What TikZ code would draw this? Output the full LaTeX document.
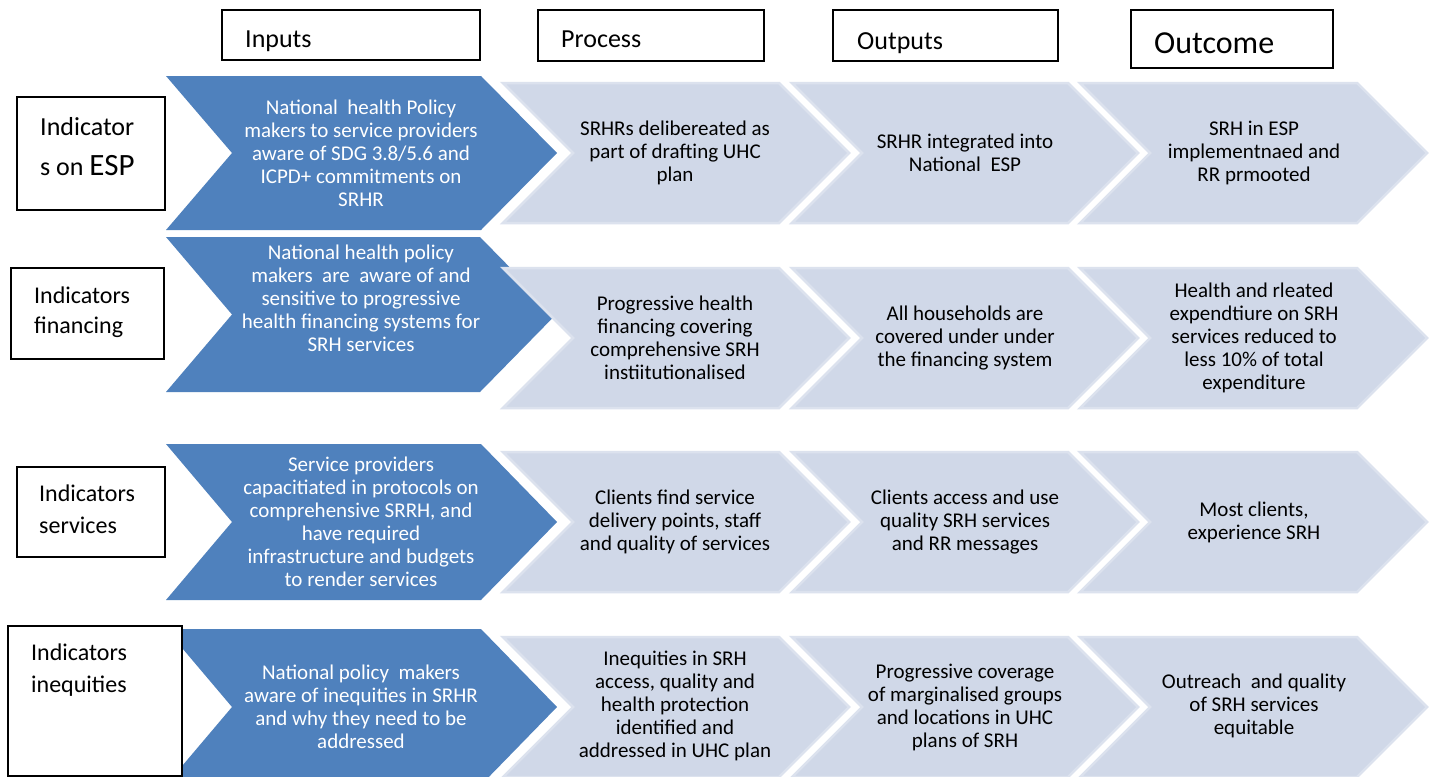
\documentclass[tikz,border=0pt]{standalone}
\usepackage{fontspec}
\setmainfont{Carlito}
\definecolor{darkblue}{HTML}{4F81BD}
\definecolor{lightblue}{HTML}{D0D8E8}
\definecolor{lightrim}{HTML}{DCE2EE}
\newcommand\chevpath[8]{% style, left, top, body width, height, tip depth, notch depth, name
  \path[#1] (#2,#3) coordinate (#8) -- ++(#4,0) -- ++(#6,#5/2) -- ++(-#6,#5/2) -- ++(-#4,0) -- ++(#7,-#5/2) -- cycle;}
\tikzset{
  darkchev/.style={fill=darkblue},
  lightchev/.style={fill=lightblue, draw=lightrim, line width=2.5pt, line join=miter},
  hdrbox/.style={draw=black, fill=white, line width=1.3pt},
  darktxt/.style={text=white, align=center, inner sep=0pt, font=\fontsize{21}{23}\selectfont},
  lighttxt/.style={text=black, align=center, inner sep=0pt, font=\fontsize{21}{23}\selectfont},
  hdrtxt/.style={anchor=base west, inner sep=0pt, font=\fontsize{26}{30}\selectfont},
  lbltxt/.style={anchor=base west, inner sep=0pt, align=left, font=\fontsize{24}{31}\selectfont}
}
\begin{document}
\begin{tikzpicture}[x=1pt,y=-1pt]
\useasboundingbox (0,0) rectangle (1431,776);
\fill[white] (0,0) rectangle (1431,776);
% header boxes
\draw[hdrbox] (222,10) rectangle (480,60);
\draw[hdrbox] (538,10) rectangle (764,61);
\draw[hdrbox] (833,10) rectangle (1058,61);
\draw[hdrbox] (1131,10) rectangle (1333,68);
\node[hdrtxt] (hin) at (245,48) {Inputs};
\node[hdrtxt] (hpr) at (561,48) {Process};
\node[hdrtxt] (hou) at (857,49) {Outputs};
\node[hdrtxt, font=\fontsize{32}{36}\selectfont] (hoc) at (1154,54) {Outcome};
% dark chevrons
\chevpath{darkchev}{166}{76}{315}{154}{76}{66}{d1}
\chevpath{darkchev}{166}{237}{314}{155}{76}{66}{d2}
\chevpath{darkchev}{166}{444}{315}{156}{76}{66}{d3}
\chevpath{darkchev}{166}{629}{315}{156}{76}{66}{d4}
% light chevrons
\foreach \r/\t in {1/83,2/268,3/452,4/637}{
  \chevpath{lightchev}{503}{\t}{276}{140}{70}{70}{la\r}
  \chevpath{lightchev}{792}{\t}{276}{140}{70}{70}{lb\r}
  \chevpath{lightchev}{1080}{\t}{277}{140}{70}{70}{lc\r}
}
% row label boxes
\draw[hdrbox] (17,97) rectangle (165,210);
\draw[hdrbox] (11,268) rectangle (164,359);
\draw[hdrbox] (17,467) rectangle (165,557);
\draw[hdrbox] (8,626) rectangle (182,776);
\node[lbltxt, font=\fontsize{26}{40}\selectfont] (l1) at (40,175) {Indicator\\s on {\fontsize{31}{40}\selectfont ESP}};
\node[lbltxt, font=\fontsize{24}{30}\selectfont] (l2) at (34,333) {Indicators\\financing};
\node[lbltxt, font=\fontsize{24}{32}\selectfont] (l3) at (39,533) {Indicators\\services};
\node[lbltxt, font=\fontsize{24}{32}\selectfont] (l4) at (31,692) {Indicators\\inequities};
% input texts
\node[darktxt] (t11) at (361,153) {National\ \ health Policy\\makers to service providers\\aware of SDG 3.8/5.6 and\\ICPD+ commitments on\\SRHR};
\node[darktxt] (t21) at (361,298) {National health policy\\makers\ \ are\ \ aware of and\\sensitive to progressive\\health financing systems for\\SRH services};
\node[darktxt] (t31) at (361,522) {Service providers\\capacitiated in protocols on\\comprehensive SRRH, and\\have required\\infrastructure and budgets\\to render services};
\node[darktxt] (t41) at (361,707) {National policy\ \ makers\\aware of inequities in SRHR\\and why they need to be\\addressed};
% process texts
\node[lighttxt] (t12) at (675,153) {SRHRs delibereated as\\part of drafting UHC\\plan};
\node[lighttxt] (t22) at (675,338) {Progressive health\\financing covering\\comprehensive SRH\\instiitutionalised};
\node[lighttxt] (t32) at (675,522) {Clients find service\\delivery points, staff\\and quality of services};
\node[lighttxt] (t42) at (675,706) {Inequities in SRH\\access, quality and\\health protection\\identified and\\addressed in UHC plan};
% outputs texts
\node[lighttxt] (t13) at (965,153) {SRHR integrated into\\National\ \ ESP};
\node[lighttxt] (t23) at (965,338) {All households are\\covered under under\\the financing system};
\node[lighttxt] (t33) at (965,522) {Clients access and use\\quality SRH services\\and RR messages};
\node[lighttxt] (t43) at (965,707) {Progressive coverage\\of marginalised groups\\and locations in UHC\\plans of SRH};
% outcome texts
\node[lighttxt] (t14) at (1254,153) {SRH in ESP\\implementnaed and\\RR prmooted};
\node[lighttxt] (t24) at (1254,338) {Health and rleated\\expendtiure on SRH\\services reduced to\\less 10\% of total\\expenditure};
\node[lighttxt] (t34) at (1254,522) {Most clients,\\experience SRH};
\node[lighttxt] (t44) at (1254,706) {Outreach\ \ and quality\\of SRH services\\equitable};
\end{tikzpicture}
\end{document}
